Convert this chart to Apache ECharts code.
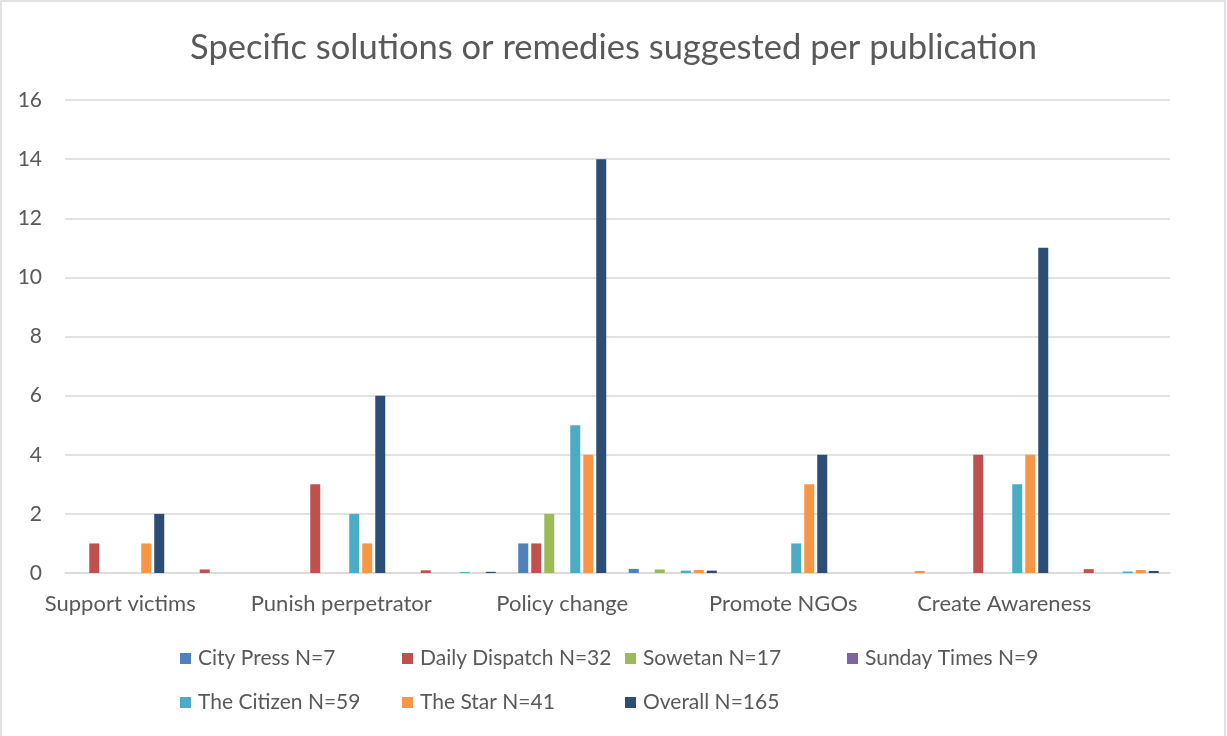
<!DOCTYPE html>
<html>
<head>
<meta charset="utf-8">
<script src="https://cdn.jsdelivr.net/npm/echarts@6/dist/echarts.min.js"></script>
<style>
  html, body { margin: 0; padding: 0; background: #fff; }
  #chart { width: 1227px; height: 736px; }
</style>
</head>
<body>
<div id="chart"></div>
<script>
// Each remedy has a count column followed by a share column
const categories = [
  'Support victims', 'Support victims (share)',
  'Punish perpetrator', 'Punish perpetrator (share)',
  'Policy change', 'Policy change (share)',
  'Promote NGOs', 'Promote NGOs (share)',
  'Create Awareness', 'Create Awareness (share)'
];

const seriesNames = [
  'City Press N=7', 'Daily Dispatch N=32', 'Sowetan N=17', 'Sunday Times N=9',
  'The Citizen N=59', 'The Star N=41', 'Overall N=165'
];

const cityPress     = [0, 0,    0, 0,    1, 0.14,  0, 0,    0, 0];
const dailyDispatch = [1, 0.12, 3, 0.09, 1, 0,     0, 0,    4, 0.13];
const sowetan       = [0, 0,    0, 0,    2, 0.12,  0, 0,    0, 0];
const sundayTimes   = [0, 0,    0, 0,    0, 0,     0, 0,    0, 0];
const theCitizen    = [0, 0,    2, 0.03, 5, 0.08,  1, 0,    3, 0.05];
const theStar       = [1, 0,    1, 0,    4, 0.10,  3, 0.07, 4, 0.10];
const overall       = [2, 0,    6, 0.04, 14, 0.08, 4, 0,    11, 0.07];

const yTicks = [0, 2, 4, 6, 8, 10, 12, 14, 16];

const seriesValues = [cityPress, dailyDispatch, sowetan, sundayTimes, theCitizen, theStar, overall];
const colors = ['#4F81BD', '#C0504D', '#9BBB59', '#8064A2', '#4BACC6', '#F79646', '#2C4D75'];

const FONT = 'Lato';
const TEXT = '#595959';

const chart = echarts.init(document.getElementById('chart'), null, { renderer: 'canvas' });

// legend laid out as a grid: 4 columns, 2 rows
const COLS = 4;
const colLeft = [180, 402, 625, 847];
const rowTop = [648, 692];
const legends = seriesNames.map((name, i) => ({
  orient: 'horizontal',
  left: colLeft[i % COLS],
  top: rowTop[Math.floor(i / COLS)],
  padding: 0,
  itemWidth: 11,
  itemHeight: 11,
  itemGap: 0,
  icon: 'rect',
  data: [name],
  textStyle: { color: TEXT, fontSize: 21, fontFamily: FONT, padding: [0, 0, 0, 2] }
}));

chart.setOption({
  animation: false,
  color: colors,
  title: {
    text: 'Specific solutions or remedies suggested per publication',
    left: 'center',
    top: 25,
    textStyle: { color: TEXT, fontSize: 34.5, fontWeight: 'normal', fontFamily: FONT }
  },
  legend: legends,
  grid: { left: 65, right: 57, top: 100, bottom: 163, containLabel: false },
  xAxis: {
    type: 'category',
    data: categories,
    axisLine: { lineStyle: { color: '#d9d9d9', width: 1.5 } },
    axisTick: { show: false },
    axisLabel: { interval: 1, color: TEXT, fontSize: 22, fontFamily: FONT, margin: 20 }
  },
  yAxis: {
    type: 'value',
    min: yTicks[0],
    max: yTicks[yTicks.length - 1],
    interval: yTicks[1] - yTicks[0],
    axisLine: { show: false },
    axisTick: { show: false },
    axisLabel: { color: TEXT, fontSize: 21, fontFamily: FONT, margin: 23 },
    splitLine: { lineStyle: { color: '#d9d9d9', width: 1.5 } }
  },
  graphic: [{
    type: 'rect',
    shape: { x: 1, y: 1, width: 1224, height: 800 },
    style: { fill: 'none', stroke: '#d9d9d9', lineWidth: 1.5 },
    silent: true
  }],
  series: seriesNames.map((name, i) => ({
    name: name,
    type: 'bar',
    data: seriesValues[i],
    barWidth: 10,
    barGap: '30%',
    itemStyle: { color: colors[i] }
  }))
});
</script>
</body>
</html>
